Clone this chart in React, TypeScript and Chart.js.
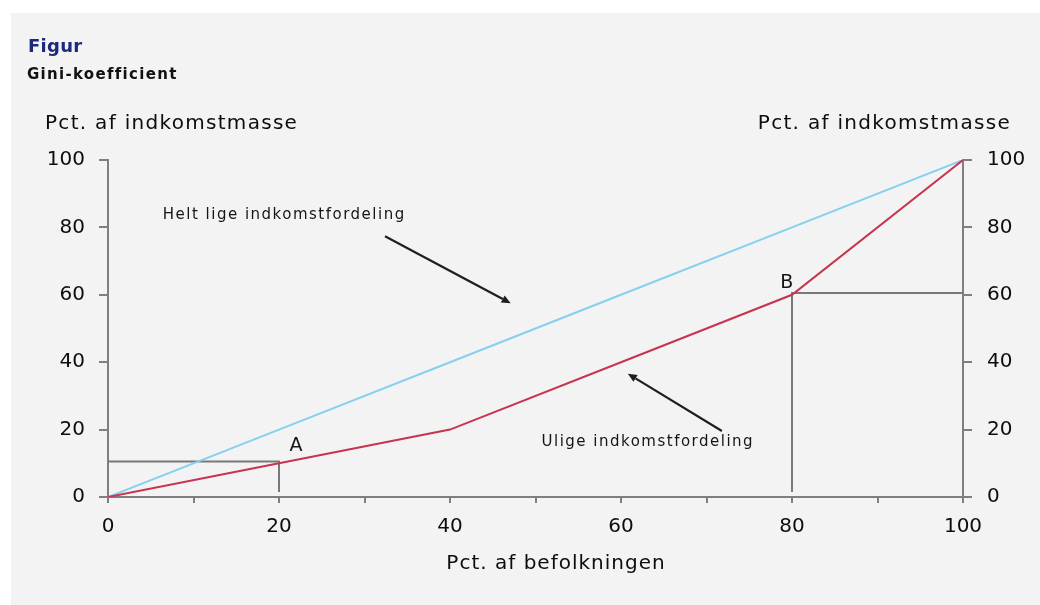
import React, { useEffect, useRef } from "react";
import { Chart, registerables } from "chart.js";

Chart.register(...registerables);

// ---- data ----
const populationPct = [0, 20, 40, 60, 80, 100];
const unequalIncomePct = [0, 10, 20, 40, 60, 100];
const equalIncomePct = [0, 20, 40, 60, 80, 100];
const xTickLabels = [0, 20, 40, 60, 80, 100];
const yTickLabels = [0, 20, 40, 60, 80, 100];
const guideA = [
  { x: 0, y: 10.5 },
  { x: 20, y: 10.5 },
  { x: 20, y: 1.5 },
];
const guideB = [
  { x: 80, y: 1.5 },
  { x: 80, y: 60.5 },
  { x: 100, y: 60.5 },
];

const titleText = "Figur";
const subtitleText = "Gini-koefficient";
const yTitle = "Pct. af indkomstmasse";
const xTitle = "Pct. af befolkningen";

// annotations in data coordinates
const notes = [
  { text: "Helt lige indkomstfordeling", x: 6.4, y: 83.5, align: "left", size: 15, spacing: 1.5 },
  { text: "Ulige indkomstfordeling", x: 50.7, y: 16.2, align: "left", size: 15, spacing: 1.5 },
  { text: "A", x: 22, y: 15.2, align: "center", size: 19, spacing: 0 },
  { text: "B", x: 79.4, y: 63.6, align: "center", size: 19, spacing: 0 },
];
const arrows = [
  { from: { x: 32.4, y: 77.4 }, to: { x: 47.1, y: 57.5 } },
  { from: { x: 71.8, y: 19.6 }, to: { x: 60.8, y: 36.6 } },
];

const FONT = "'DejaVu Sans', sans-serif";
const AXIS_GREY = "#7f7f7f";

const overlayPlugin = {
  id: "overlay",
  afterDatasetsDraw(chart: any) {
    const ctx = chart.ctx as CanvasRenderingContext2D;
    const xs = chart.scales.x;
    const ys = chart.scales.y;
    ctx.save();
    // arrows
    ctx.strokeStyle = "#1e1e1e";
    ctx.fillStyle = "#1e1e1e";
    ctx.lineWidth = 2.2;
    arrows.forEach((a) => {
      const x1 = xs.getPixelForValue(a.from.x);
      const y1 = ys.getPixelForValue(a.from.y);
      const x2 = xs.getPixelForValue(a.to.x);
      const y2 = ys.getPixelForValue(a.to.y);
      const ang = Math.atan2(y2 - y1, x2 - x1);
      const hl = 9;
      const hw = 4;
      const bx = x2 - hl * Math.cos(ang);
      const by = y2 - hl * Math.sin(ang);
      ctx.beginPath();
      ctx.moveTo(x1, y1);
      ctx.lineTo(bx, by);
      ctx.stroke();
      ctx.beginPath();
      ctx.moveTo(x2, y2);
      ctx.lineTo(bx + hw * Math.sin(ang), by - hw * Math.cos(ang));
      ctx.lineTo(bx - hw * Math.sin(ang), by + hw * Math.cos(ang));
      ctx.closePath();
      ctx.fill();
    });
    // notes
    ctx.fillStyle = "#151515";
    ctx.textBaseline = "middle";
    notes.forEach((n) => {
      ctx.font = `${n.size}px ${FONT}`;
      (ctx as any).letterSpacing = `${n.spacing}px`;
      ctx.textAlign = n.align as CanvasTextAlign;
      ctx.fillText(n.text, xs.getPixelForValue(n.x), ys.getPixelForValue(n.y));
    });
    ctx.restore();
  },
  afterDraw(chart: any) {
    const ctx = chart.ctx as CanvasRenderingContext2D;
    ctx.save();
    ctx.textBaseline = "alphabetic";
    // title
    ctx.fillStyle = "#1b2a7a";
    ctx.font = `bold 18px ${FONT}`;
    (ctx as any).letterSpacing = "0.3px";
    ctx.textAlign = "left";
    ctx.fillText(titleText, 28, 52);
    ctx.fillStyle = "#111";
    ctx.font = `bold 15px ${FONT}`;
    (ctx as any).letterSpacing = "1.3px";
    ctx.fillText(subtitleText, 27, 79);
    // axis titles
    ctx.font = `20px ${FONT}`;
    (ctx as any).letterSpacing = "1.3px";
    ctx.fillStyle = "#0d0d0d";
    ctx.textAlign = "left";
    ctx.fillText(yTitle, 45, 129);
    ctx.textAlign = "right";
    ctx.fillText(yTitle, 1011, 129);
    (ctx as any).letterSpacing = "1px";
    ctx.textAlign = "center";
    ctx.fillText(xTitle, 556, 569);
    ctx.restore();
  },
};

export default function App() {
  const ref = useRef<HTMLCanvasElement | null>(null);

  useEffect(() => {
    if (!ref.current) return;
    const chart = new Chart(ref.current, {
      type: "line",
      data: {
        datasets: [
          {
            label: "Ulige indkomstfordeling",
            data: populationPct.map((p, i) => ({ x: p, y: unequalIncomePct[i] })),
            borderColor: "#c7344f",
            borderWidth: 2,
            pointRadius: 0,
            tension: 0,
          },
          {
            label: "Helt lige indkomstfordeling",
            data: populationPct.map((p, i) => ({ x: p, y: equalIncomePct[i] })),
            borderColor: "#86d0ee",
            borderWidth: 2,
            pointRadius: 0,
            tension: 0,
          },
          {
            label: "A",
            data: guideA,
            borderColor: "#787878",
            borderWidth: 2,
            pointRadius: 0,
            tension: 0,
          },
          {
            label: "B",
            data: guideB,
            borderColor: "#787878",
            borderWidth: 2,
            pointRadius: 0,
            tension: 0,
          },
        ],
      },
      options: {
        animation: false,
        responsive: false,
        maintainAspectRatio: false,
        layout: { padding: { top: 160, left: 0, right: 0, bottom: 0 } },
        plugins: {
          legend: { display: false },
          tooltip: { enabled: false },
          title: { display: false },
        },
        scales: {
          x: {
            type: "linear",
            min: 0,
            max: 100,
            position: "bottom",
            border: { display: true, color: AXIS_GREY, width: 2 },
            grid: {
              drawOnChartArea: false,
              drawTicks: true,
              tickLength: 6,
              color: AXIS_GREY,
              lineWidth: 2,
            },
            ticks: {
              stepSize: 10,
              autoSkip: false,
              maxRotation: 0,
              padding: 12,
              color: "#0d0d0d",
              font: { family: FONT, size: 20 },
              callback: (v: any) => (xTickLabels.includes(Number(v)) ? String(v) : ""),
            },
            afterFit: (s: any) => {
              s.height = 108;
            },
          },
          y: {
            type: "linear",
            min: 0,
            max: 100,
            position: "left",
            border: { display: true, color: AXIS_GREY, width: 2 },
            grid: {
              drawOnChartArea: false,
              drawTicks: true,
              tickLength: 9,
              color: AXIS_GREY,
              lineWidth: 2,
            },
            ticks: {
              stepSize: 20,
              padding: 14,
              color: "#0d0d0d",
              font: { family: FONT, size: 20 },
              callback: (v: any) => (yTickLabels.includes(Number(v)) ? String(v) : ""),
            },
            afterFit: (s: any) => {
              s.width = 108;
            },
          },
          y2: {
            type: "linear",
            min: 0,
            max: 100,
            position: "right",
            border: { display: true, color: AXIS_GREY, width: 2 },
            grid: {
              drawOnChartArea: false,
              drawTicks: true,
              tickLength: 9,
              color: AXIS_GREY,
              lineWidth: 2,
            },
            ticks: {
              stepSize: 20,
              padding: 15,
              color: "#0d0d0d",
              font: { family: FONT, size: 20 },
              callback: (v: any) => (yTickLabels.includes(Number(v)) ? String(v) : ""),
            },
            afterFit: (s: any) => {
              s.width = 77;
            },
          },
        },
      },
      plugins: [overlayPlugin],
    });
    return () => chart.destroy();
  }, []);

  return (
    <div
      style={{
        position: "fixed",
        left: 0,
        top: 0,
        width: 1040,
        height: 605,
        background: "#ffffff",
        overflow: "hidden",
      }}
    >
      <div
        style={{
          position: "absolute",
          left: 11,
          top: 13,
          width: 1029,
          height: 592,
          background: "#f3f3f3",
        }}
      />
      <canvas
        ref={ref}
        width={1040}
        height={605}
        style={{ position: "absolute", left: 0, top: 0, width: 1040, height: 605 }}
      />
    </div>
  );
}
